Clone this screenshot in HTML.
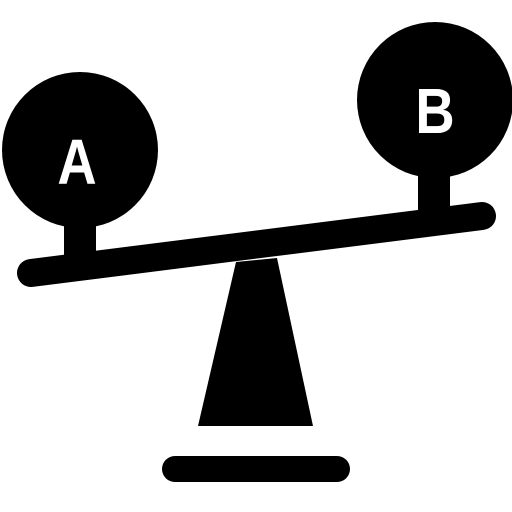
<!DOCTYPE html>
<html>
<head>
<meta charset="utf-8">
<style>
html,body{margin:0;padding:0;background:#fff;}
svg{display:block;}
</style>
</head>
<body>
<svg width="512" height="512" viewBox="0 0 512 512">
  <rect x="64" y="215" width="32" height="48" fill="#000"/>
  <rect x="418" y="165" width="32" height="50" fill="#000"/>
  <circle cx="80" cy="150" r="78" fill="#000"/>
  <circle cx="435" cy="100" r="78" fill="#000"/>
  <line x1="31" y1="273" x2="482" y2="216" stroke="#000" stroke-width="28" stroke-linecap="round"/>
  <polygon points="236,262 277,258 313,426 198,426" fill="#000"/>
  <line x1="175" y1="469" x2="337" y2="469" stroke="#000" stroke-width="26" stroke-linecap="round"/>
  <text x="0" y="0" transform="translate(77,184) scale(0.85,1)" text-anchor="middle" font-family="Liberation Sans, sans-serif" font-weight="bold" font-size="64" fill="#fff">A</text>
  <text x="0" y="0" transform="translate(435,133) scale(0.85,1)" text-anchor="middle" font-family="Liberation Sans, sans-serif" font-weight="bold" font-size="64" fill="#fff">B</text>
</svg>
</body>
</html>
